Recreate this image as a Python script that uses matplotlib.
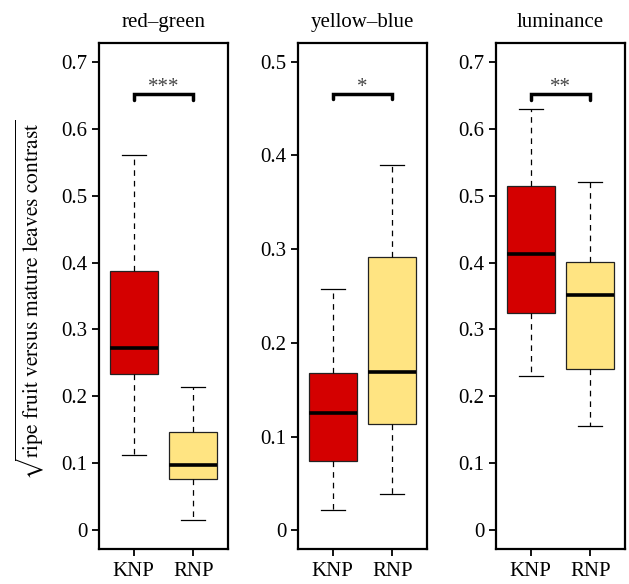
import matplotlib
matplotlib.use("Agg")
import matplotlib.pyplot as plt

plt.rcParams["font.family"] = ["Liberation Serif", "DejaVu Serif"]
plt.rcParams["mathtext.fontset"] = "stix"

# data
panels = ["red\u2013green", "yellow\u2013blue", "luminance"]
groups = ["KNP", "RNP"]
whisk_lo = [[0.113, 0.015], [0.022, 0.039], [0.230, 0.156]]
q1 = [[0.233, 0.077], [0.074, 0.113], [0.325, 0.241]]
med = [[0.273, 0.097], [0.125, 0.169], [0.413, 0.352]]
q3 = [[0.388, 0.147], [0.168, 0.292], [0.514, 0.401]]
whisk_hi = [[0.560, 0.214], [0.258, 0.390], [0.630, 0.520]]
stars = ["***", "*", "**"]
bracket_y = [0.652, 0.466, 0.652]
ymax = [0.7, 0.5, 0.7]
yticks = [[0, 0.1, 0.2, 0.3, 0.4, 0.5, 0.6, 0.7],
          [0, 0.1, 0.2, 0.3, 0.4, 0.5],
          [0, 0.1, 0.2, 0.3, 0.4, 0.5, 0.6, 0.7]]

colors = ["#D40000", "#FFE482"]

W, H = 629, 584
fig = plt.figure(figsize=(W / 100, H / 100), dpi=100)

lefts = [99, 298, 496]
top, bottom, pw = 43, 549, 129

for i, name in enumerate(panels):
    ax = fig.add_axes([lefts[i] / W, (H - bottom) / H, pw / W, (bottom - top) / H])

    stats = []
    for j in range(2):
        stats.append({
            "whislo": whisk_lo[i][j], "q1": q1[i][j], "med": med[i][j],
            "q3": q3[i][j], "whishi": whisk_hi[i][j], "fliers": [],
        })
    bp = ax.bxp(stats, positions=[1, 2], widths=0.8, capwidths=0.4,
                patch_artist=True, showfliers=False,
                boxprops=dict(edgecolor="#222222", linewidth=0.9),
                medianprops=dict(color="black", linewidth=2.6, solid_capstyle="butt"),
                whiskerprops=dict(color="black", linewidth=0.9, linestyle=(0, (4.5, 4))),
                capprops=dict(color="black", linewidth=0.9))
    for patch, c in zip(bp["boxes"], colors):
        patch.set_facecolor(c)

    # significance bracket
    rng = ymax[i] * 1.08
    tip = 0.0115 * rng
    by = bracket_y[i]
    ax.plot([1, 1, 2, 2], [by - tip, by, by, by - tip], color="black",
            linewidth=2.5, solid_joinstyle="miter", solid_capstyle="round")
    ax.annotate(stars[i], (1.5, by), xytext=(0, 1), textcoords="offset points",
                ha="center", va="baseline", fontsize=15, color="#444444")

    ax.set_xlim(0.42, 2.58)
    ax.set_ylim(-0.04 * ymax[i], 1.04 * ymax[i])
    ax.set_yticks(yticks[i])
    ax.set_yticklabels(["0" if v == 0 else f"{v:g}" for v in yticks[i]])
    ax.set_xticks([1, 2])
    ax.set_xticklabels(groups)
    ax.tick_params(axis="y", direction="out", length=5, width=1.3, labelsize=15, pad=3.5)
    ax.tick_params(axis="x", direction="out", length=5, width=1.3, labelsize=15, pad=4)
    for s in ax.spines.values():
        s.set_linewidth(1.6)

    ax.text(0.5, 1 + 16 / (bottom - top), name, transform=ax.transAxes,
            ha="center", va="baseline", fontsize=15)

fig.text(30 / W, (H - 300) / H,
         r"$\sqrt{\mathrm{ripe\ fruit\ versus\ mature\ leaves\ contrast}}$",
         rotation=90, ha="center", va="center", fontsize=15.5)

fig.savefig("out.png", dpi=100)
